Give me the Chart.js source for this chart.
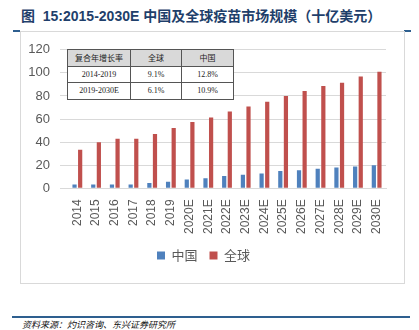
<!DOCTYPE html>
<html lang="zh">
<head>
<meta charset="UTF-8">
<title>中国及全球疫苗市场规模</title>
<script src="https://cdn.jsdelivr.net/npm/chart.js"></script>
<style>
    body { margin: 0; width: 419px; height: 330px; background: #fff; position: relative; overflow: hidden; font-family: "Noto Sans CJK SC", sans-serif; }
    .title { position: absolute; left: 21px; top: 5px; font-size: 14px; font-weight: bold; color: #1f3f6b; font-family: "Liberation Sans", "Noto Sans CJK SC", sans-serif; white-space: nowrap; }
    .tick-l { position: absolute; left: 13px; top: 30px; width: 7px; height: 2px; background: #2e5f8f; }
    .tick-r { position: absolute; left: 404px; top: 30px; width: 7px; height: 2px; background: #2e5f8f; }
    .frame { position: absolute; left: 20px; top: 31px; width: 383px; height: 251px; border: 1px solid #d9d9d9; }
    .chart-box { position: absolute; left: 21px; top: 32px; width: 382px; height: 250px; }
    .bottom-line { position: absolute; left: 12px; top: 316px; width: 398px; height: 2px; background: #2e5f8f; }
    .source { position: absolute; left: 22px; top: 318px; font-size: 9px; font-style: italic; color: #111; font-family: "Noto Sans CJK SC", sans-serif; }
    table.cagr { position: absolute; left: 67px; top: 49px; border-collapse: collapse; font-size: 8px; color: #222; font-family: "Liberation Serif", "Noto Sans CJK SC", serif; background: #fff; border: 1.5px solid #404040; }
    table.cagr td { border: 1px solid #555; height: 15.5px; padding: 0; text-align: center; }
    table.cagr tr:first-child td { background: #d9d9d9; }
</style>
</head>
<body>
<div class="title">图&nbsp; 15:2015-2030E 中国及全球疫苗市场规模（十亿美元）</div>
<div class="tick-l"></div>
<div class="tick-r"></div>
<div class="frame"></div>
<div class="chart-box"><canvas id="vaccineChart" width="382" height="250"></canvas></div>
<table class="cagr" id="cagrTable"></table>
<div class="bottom-line"></div>
<div class="source">资料来源：灼识咨询、东兴证券研究所</div>

<script>
    // categories and values
    const years = ["2014", "2015", "2016", "2017", "2018", "2019", "2020E", "2021E", "2022E", "2023E",
                   "2024E", "2025E", "2026E", "2027E", "2028E", "2029E", "2030E"];
    const chinaValues = [3.4, 3.4, 3.4, 3.4, 4.6, 5.7, 7.7, 8.6, 10.6, 11.7, 12.9, 14.9, 15.7, 16.9, 18.0, 18.9, 20.0];
    const globalValues = [33.5, 39.8, 42.9, 42.9, 47.1, 52.3, 57.4, 61.4, 66.6, 70.9, 74.9, 80.0, 84.3, 88.6, 91.4, 96.9, 100.9];
    const yTicks = [0, 20, 40, 60, 80, 100, 120];

    // CAGR table
    const tableHeader = ["复合年增长率", "全球", "中国"];
    const tableRows = [
        ["2014-2019", "9.1%", "12.8%"],
        ["2019-2030E", "6.1%", "10.9%"]
    ];
    const colWidths = [62, 50, 51];

    const table = document.getElementById("cagrTable");
    [tableHeader, ...tableRows].forEach(row => {
        const tr = document.createElement("tr");
        row.forEach((cell, i) => {
            const td = document.createElement("td");
            td.textContent = cell;
            td.style.width = colWidths[i] + "px";
            tr.appendChild(td);
        });
        table.appendChild(tr);
    });

    const ctx = document.getElementById("vaccineChart").getContext("2d");
    new Chart(ctx, {
        type: "bar",
        data: {
            labels: years,
            datasets: [
                { label: "中国", data: chinaValues, backgroundColor: "#4f81bd", categoryPercentage: 0.6, barPercentage: 0.75 },
                { label: "全球", data: globalValues, backgroundColor: "#c0504d", categoryPercentage: 0.6, barPercentage: 0.75 }
            ]
        },
        options: {
            responsive: false,
            animation: false,
            layout: { padding: { left: 0, right: 17, top: 10, bottom: 10 } },
            plugins: {
                tooltip: { enabled: false },
                legend: {
                    position: "bottom",
                    labels: {
                        boxWidth: 8, boxHeight: 8, padding: 12,
                        color: "#595959",
                        font: { size: 13, family: "Noto Sans CJK SC" }
                    }
                }
            },
            scales: {
                x: {
                    grid: { display: false },
                    border: { color: "#d9d9d9" },
                    ticks: {
                        minRotation: 90, maxRotation: 90, autoSkip: false,
                        color: "#595959",
                        font: { size: 12, family: "Liberation Sans" }
                    }
                },
                y: {
                    min: 0, max: 120,
                    afterBuildTicks: axis => { axis.ticks = yTicks.map(v => ({ value: v })); },
                    afterFit: axis => { axis.width = 47; },
                    grid: { color: "#d9d9d9" },
                    border: { display: false },
                    ticks: {
                        color: "#595959",
                        padding: 10,
                        font: { size: 13, family: "Liberation Sans" }
                    }
                }
            }
        }
    });
</script>
</body>
</html>
